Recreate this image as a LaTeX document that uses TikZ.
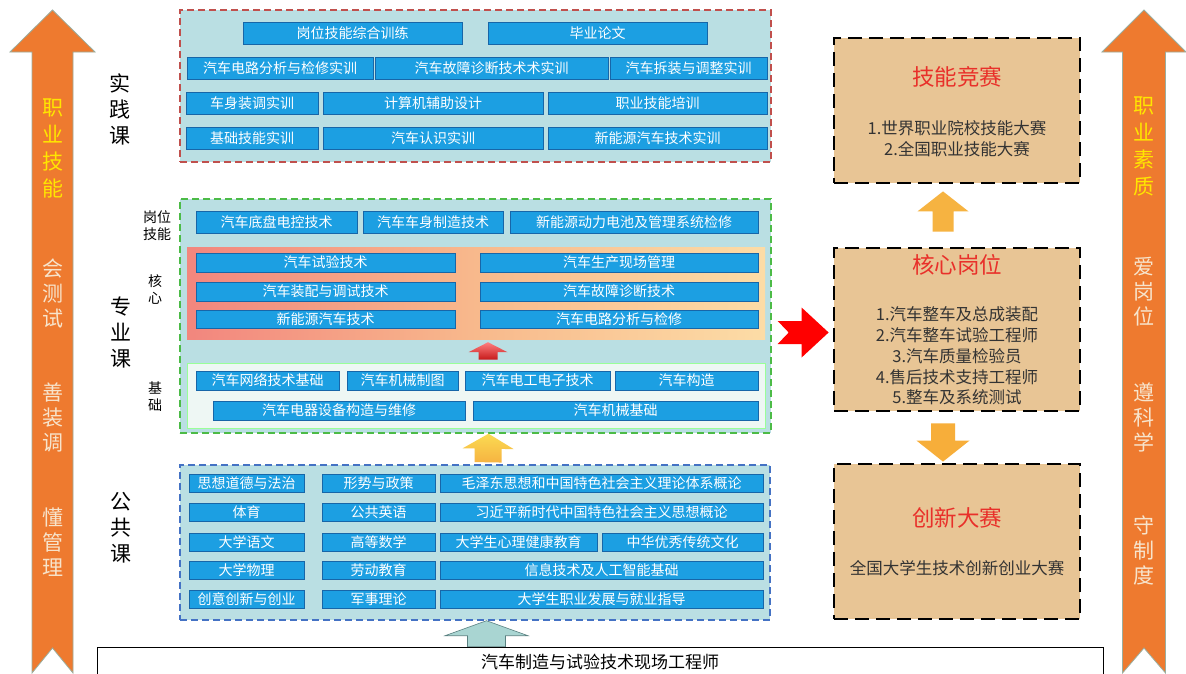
\documentclass[tikz,border=0pt]{standalone}
\usepackage{fontspec}
\setmainfont{Noto Sans CJK SC}
\usetikzlibrary{calc}
\definecolor{cbfill}{HTML}{1C9FE2}
\definecolor{cbdraw}{HTML}{1766A8}
\definecolor{secfill}{HTML}{BADFE3}
\definecolor{pracred}{HTML}{C0504D}
\definecolor{progreen}{HTML}{4CBB47}
\definecolor{pubblue}{HTML}{4472C4}
\definecolor{tanbox}{HTML}{E8C595}
\definecolor{titlered}{HTML}{E8302A}
\definecolor{bodygray}{HTML}{333333}
\definecolor{sideorange}{HTML}{EE7A2F}
\definecolor{sideedge}{HTML}{9BAE9F}
\definecolor{sideyellow}{HTML}{FFE600}
\definecolor{sidecream}{HTML}{F7E4CC}
\definecolor{goldarrow}{HTML}{F6B341}
\definecolor{paleteal}{HTML}{A9D5D2}
\definecolor{coreleft}{HTML}{F2867E}
\definecolor{coremid}{HTML}{F8B98C}
\definecolor{coreright}{HTML}{FCDCA6}
\definecolor{basefill}{HTML}{EEF7F4}
\newcommand\rbox[7][]{\node[#1, minimum width={#5-#3}, minimum height={#6-#4}, inner sep=0pt] (#2) at ({(#3+#5)/2},{(#4+#6)/2}) {#7};}
% style, tail, tip, half shaft, half head, head length, notch depth
\newcommand\blockarr[7]{%
  \coordinate (bah) at ($(#3)!#6!(#2)$);
  \path[#1] ($(#2)!#4!90:(#3)$) -- ($(bah)!#4!90:(#3)$) -- ($(bah)!#5!90:(#3)$) -- (#3)
    -- ($(bah)!#5!-90:(#3)$) -- ($(bah)!#4!-90:(#3)$) -- ($(#2)!#4!-90:(#3)$)
    -- ($(#2)!#7!(#3)$) -- cycle;}
\begin{document}
\begin{tikzpicture}[x=1pt,y=-1pt,
  crs/.style={draw=cbdraw, line width=0.8pt, fill=cbfill, text=white, font=\fontsize{14}{15}\selectfont},
  sec/.style={fill=secfill, line width=1.4pt, dash pattern=on 7pt off 4pt},
  rbx/.style={fill=tanbox, draw=black, line width=2.8pt, dash pattern=on 14pt off 7pt},
  ttl/.style={text=titlered, font=\fontsize{22.5}{25}\selectfont},
  body/.style={text=bodygray, font=\fontsize{16.5}{20.7}\selectfont, align=center},
  vlab/.style={font=\fontsize{21}{26}\selectfont, align=center},
  slab/.style={font=\fontsize{14}{17}\selectfont, align=center},
  sidearr/.style={fill=sideorange, draw=sideedge, line width=0.8pt},
  sidey/.style={text=sideyellow, font=\fontsize{21}{27}\selectfont, align=center},
  sidec/.style={text=sidecream, font=\fontsize{21}{25}\selectfont, align=center}]
\useasboundingbox (0,0) rectangle (1186,673);
\clip (0,0) rectangle (1186,673);
\fill[white] (0,0) rectangle (1186,673);

% side arrows
\coordinate (lt) at (52.5,673);
\coordinate (lp) at (52.5,10);
\blockarr{sidearr}{lt}{lp}{20.5pt}{42.5pt}{42pt}{25pt}
\coordinate (rt) at (1144,673);
\coordinate (rp) at (1144,10);
\blockarr{sidearr}{rt}{rp}{21.5pt}{42pt}{42pt}{25pt}
\node[sidey] (lyel) at (52.5,148) {职\\业\\技\\能};
\node[sidec] (lc1) at (52.5,293) {会\\测\\试};
\node[sidec] (lc2) at (52.5,417) {善\\装\\调};
\node[sidec] (lc3) at (52.5,542) {懂\\管\\理};
\node[sidey] (ryel) at (1144,146) {职\\业\\素\\质};
\node[sidec] (rc1) at (1144,292) {爱\\岗\\位};
\node[sidec] (rc2) at (1144,417) {遵\\科\\学};
\node[sidec] (rc3) at (1144,550) {守\\制\\度};

% section labels
\node[vlab] (lprac) at (120,109) {实\\践\\课};
\node[vlab] (lpro) at (121,332) {专\\业\\课};
\node[vlab] (lpub) at (121,528) {公\\共\\课};
\node[slab] (lpost) at (157,226) {岗位\\技能};
\node[slab] (lcore) at (155,290) {核\\心};
\node[slab] (lbase) at (155,397) {基\\础};

% practice section
\rbox[sec, draw=pracred]{prac}{180}{10}{771}{162}{}
\rbox[crs]{p1}{243}{22}{462}{44}{岗位技能综合训练}
\rbox[crs]{p2}{488}{22}{707}{44}{毕业论文}
\rbox[crs]{p3}{187}{57}{373}{79}{汽车电路分析与检修实训}
\rbox[crs]{p4}{375}{57}{608}{79}{汽车故障诊断技术术实训}
\rbox[crs]{p5}{610}{57}{767}{79}{汽车拆装与调整实训}
\rbox[crs]{p6}{186}{92}{318}{114}{车身装调实训}
\rbox[crs]{p7}{323}{92}{543}{114}{计算机辅助设计}
\rbox[crs]{p8}{548}{92}{767}{114}{职业技能培训}
\rbox[crs]{p9}{186}{127}{318}{149}{基础技能实训}
\rbox[crs]{p10}{323}{127}{543}{149}{汽车认识实训}
\rbox[crs]{p11}{548}{127}{767}{149}{新能源汽车技术实训}

% professional section
\rbox[sec, draw=progreen]{pro}{180}{199}{771}{433}{}
\rbox[crs]{a1}{196}{211}{357}{233}{汽车底盘电控技术}
\rbox[crs]{a2}{363}{211}{503}{233}{汽车车身制造技术}
\rbox[crs]{a3}{510}{211}{758}{233}{新能源动力电池及管理系统检修}
\rbox[left color=coreleft, right color=coreright, middle color=coremid, draw=none]{core}{187}{247}{765}{339}{}
\rbox[crs]{c1}{196}{253}{455}{272}{汽车试验技术}
\rbox[crs]{c2}{480}{253}{758}{272}{汽车生产现场管理}
\rbox[crs]{c3}{196}{282}{455}{301}{汽车装配与调试技术}
\rbox[crs]{c4}{480}{282}{758}{301}{汽车故障诊断技术}
\rbox[crs]{c5}{196}{310}{455}{328}{新能源汽车技术}
\rbox[crs]{c6}{480}{310}{758}{328}{汽车电路分析与检修}
\rbox[fill=basefill, draw=green!40!white, line width=0.8pt]{base}{187}{363}{765}{428}{}
\rbox[crs]{b1}{196}{371}{339}{390}{汽车网络技术基础}
\rbox[crs]{b2}{347}{371}{458}{390}{汽车机械制图}
\rbox[crs]{b3}{465}{371}{610}{390}{汽车电工电子技术}
\rbox[crs]{b4}{615}{371}{758}{390}{汽车构造}
\rbox[crs]{b5}{213}{401}{465}{420}{汽车电器设备构造与维修}
\rbox[crs]{b6}{473}{401}{758}{420}{汽车机械基础}

% public section
\rbox[sec, draw=pubblue]{pub}{180}{465}{770}{620}{}
\rbox[crs]{u1}{189}{474}{304}{492}{思想道德与法治}
\rbox[crs]{u2}{322}{474}{435}{492}{形势与政策}
\rbox[crs]{u3}{440}{474}{763}{492}{毛泽东思想和中国特色社会主义理论体系概论}
\rbox[crs]{u4}{189}{503}{304}{521}{体育}
\rbox[crs]{u5}{322}{503}{435}{521}{公共英语}
\rbox[crs]{u6}{440}{503}{763}{521}{习近平新时代中国特色社会主义思想概论}
\rbox[crs]{u7}{189}{533}{304}{551}{大学语文}
\rbox[crs]{u8}{322}{533}{435}{551}{高等数学}
\rbox[crs]{u9}{440}{533}{597}{551}{大学生心理健康教育}
\rbox[crs]{u10}{602}{533}{763}{551}{中华优秀传统文化}
\rbox[crs]{u11}{189}{561}{304}{579}{大学物理}
\rbox[crs]{u12}{322}{561}{435}{579}{劳动教育}
\rbox[crs]{u13}{440}{561}{763}{579}{信息技术及人工智能基础}
\rbox[crs]{u14}{189}{590}{304}{608}{创意创新与创业}
\rbox[crs]{u15}{322}{590}{435}{608}{军事理论}
\rbox[crs]{u16}{440}{590}{763}{608}{大学生职业发展与就业指导}

% bottom box
\rbox[draw=black, line width=0.8pt, fill=white]{eng}{97}{647}{1103}{720}{}
\node[font=\fontsize{17}{20}\selectfont] (engt) at (600,662) {汽车制造与试验技术现场工程师};

% right boxes
\rbox[rbx]{skill}{834}{38}{1080}{183}{}
\node[ttl] (skillt) at (957,77) {技能竞赛};
\node[body] (skillb) at (957,138.5) {1.世界职业院校技能大赛\\2.全国职业技能大赛};
\rbox[rbx]{job}{834}{248}{1080}{411}{}
\node[ttl] (jobt) at (957,265) {核心岗位};
\node[body] (jobb) at (957,356) {1.汽车整车及总成装配\\2.汽车整车试验工程师\\3.汽车质量检验员\\4.售后技术支持工程师\\5.整车及系统测试};
\rbox[rbx]{innov}{834}{464}{1080}{619}{}
\node[ttl] (innovt) at (957,518) {创新大赛};
\node[body] (innovb) at (957,568) {全国大学生技术创新创业大赛};

% connector arrows
\coordinate (ya1) at ($(pub.north)+(13,-2)$);
\coordinate (ya2) at ($(pro.south)+(13,0)$);
\blockarr{top color=goldarrow!60!yellow!80!white, bottom color=goldarrow}{ya1}{ya2}{13.5pt}{25.5pt}{15pt}{0pt}
\coordinate (sa1) at ($(base.north)+(12,-3)$);
\coordinate (sa2) at ($(core.south)+(12,3)$);
\blockarr{top color=red!50!white, bottom color=red!75!black!90!white}{sa1}{sa2}{9.5pt}{19.5pt}{10pt}{0pt}
\coordinate (ta1) at ($(eng.north)+(-113.5,0)$);
\coordinate (ta2) at ($(pub.south)+(11.5,0)$);
\blockarr{fill=paleteal, draw=gray!70!teal, line width=0.6pt}{ta1}{ta2}{19pt}{41.5pt}{15pt}{0pt}
\coordinate (ra1) at ($(pro.east |- job.west)+(6,3)$);
\coordinate (ra2) at ($(job.west)+(-4,3)$);
\blockarr{fill=red}{ra1}{ra2}{11.5pt}{25pt}{27pt}{11pt}
\coordinate (ua1) at ($(job.north)+(-14,-15)$);
\coordinate (ua2) at ($(skill.south)+(-14,7)$);
\blockarr{fill=goldarrow}{ua1}{ua2}{10.5pt}{25.5pt}{20pt}{0pt}
\coordinate (da1) at ($(job.south)+(-14,11)$);
\coordinate (da2) at ($(innov.north)+(-14,-1)$);
\blockarr{fill=goldarrow!90!orange}{da1}{da2}{12pt}{26.5pt}{21pt}{0pt}
\end{tikzpicture}
\end{document}
